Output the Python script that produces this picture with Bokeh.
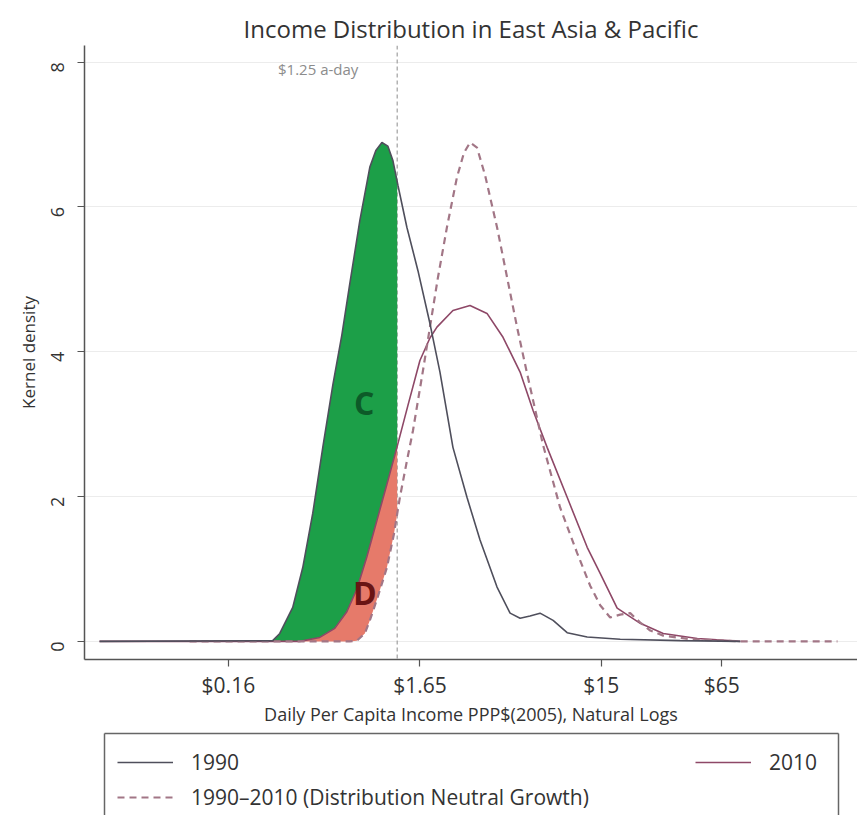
import math
import numpy as np
from bokeh.plotting import figure
from bokeh.models import (Range1d, FixedTicker, Span, Legend, LegendItem, LinearAxis,
                          Label, ColumnDataSource)
from bokeh.layouts import column
from bokeh.embed import file_html
from bokeh.resources import INLINE
from bokeh.core.properties import value

# ---------------- data (x = natural log of daily income, y = kernel density) ----------------
x_1990 = [-3.402, -1.293, -1.207, -1.049, -0.927, -0.805, -0.683, -0.561, -0.451, -0.354,
          -0.232, -0.110, -0.037, 0.037, 0.110, 0.171, 0.232, 0.341, 0.476, 0.622,
          0.744, 0.902, 1.073, 1.232, 1.439, 1.598, 1.720, 1.841, 1.963, 2.122,
          2.293, 2.537, 2.939, 3.671, 4.402]
y_1990 = [0.0, 0.01, 0.11, 0.47, 1.02, 1.77, 2.68, 3.54, 4.23, 4.94,
          5.81, 6.55, 6.78, 6.89, 6.84, 6.64, 6.30, 5.72, 5.12, 4.39,
          3.72, 2.68, 1.99, 1.40, 0.75, 0.39, 0.32, 0.35, 0.39, 0.29,
          0.12, 0.06, 0.03, 0.01, 0.0]

x_2010 = [-3.402, -0.963, -0.720, -0.537, -0.390, -0.268, -0.146, -0.024, 0.098, 0.220,
          0.354, 0.500, 0.622, 0.707, 0.902, 1.110, 1.317, 1.512, 1.720, 1.878,
          2.049, 2.293, 2.537, 2.695, 2.902, 3.183, 3.463, 3.878, 4.402]
y_2010 = [0.0, 0.0, 0.055, 0.18, 0.41, 0.72, 1.17, 1.67, 2.17, 2.68,
          3.26, 3.88, 4.19, 4.34, 4.57, 4.64, 4.53, 4.20, 3.72, 3.19,
          2.68, 1.99, 1.30, 0.94, 0.46, 0.25, 0.11, 0.04, 0.0]

x_neutral = [-2.305, -0.354, -0.268, -0.171, -0.110, -0.012, 0.098, 0.183, 0.256, 0.341,
             0.415, 0.537, 0.622, 0.720, 0.829, 0.951, 1.037, 1.110, 1.195, 1.293,
             1.439, 1.561, 1.683, 1.805, 2.000, 2.207, 2.415, 2.573, 2.695, 2.817,
             2.939, 3.061, 3.183, 3.305, 3.463, 3.793, 4.402, 5.585]
y_neutral = [0.0, 0.0, 0.01, 0.11, 0.29, 0.62, 1.02, 1.48, 1.99, 2.49,
             2.91, 3.74, 4.34, 5.03, 5.72, 6.41, 6.75, 6.89, 6.82, 6.44,
             5.72, 5.03, 4.34, 3.70, 2.71, 1.85, 1.22, 0.77, 0.50, 0.33,
             0.37, 0.39, 0.26, 0.15, 0.08, 0.03, 0.0, 0.0]

poverty_line = 1.25
poverty_text = "$1.25 a-day"
poverty_text_y = 7.9

tick_dollars = [0.16, 1.65, 15, 65]
tick_labels = ["$0.16", "$1.65", "$15", "$65"]
y_ticks = [0, 2, 4, 6, 8]

area_labels = ["C", "D"]
area_label_x = [-0.18, -0.17]
area_label_y = [3.3, 0.68]
area_label_colors = ["#0d5a28", "#6a1414"]

series_names = ["1990", "2010", "1990\u20132010 (Distribution Neutral Growth)"]

# ---------------- styles ----------------
C1990 = "#4f4f5c"
C2010 = "#8e4867"
CNEU = "#a27686"
GREEN = "#1c9f48"
SALMON = "#e67a6a"
FONT = "Open Sans"
TXT = "#333333"

# ---------------- shaded areas C and D (left of poverty line) ----------------
pov = math.log(poverty_line)
grid = np.array(sorted(set([v for v in x_1990 + x_2010 + x_neutral if v < pov] + [pov])))
g1990 = np.interp(grid, x_1990, y_1990)
g2010 = np.interp(grid, x_2010, y_2010)
gneu = np.interp(grid, x_neutral, y_neutral)

p = figure(frame_width=773, frame_height=614,
           min_border_left=84, min_border_right=0, min_border_top=45, min_border_bottom=71,
           x_range=Range1d(-3.585, 5.829), y_range=Range1d(-0.25, 8.23),
           output_backend="svg", toolbar_location=None, frame_align=False,
           title="Income Distribution in East Asia & Pacific")
p.title.align = "center"
p.title.text_font = FONT
p.title.text_font_size = "24px"
p.title.text_font_style = "normal"
p.title.text_color = TXT
p.title.standoff = 2
p.outline_line_color = None
p.background_fill_color = "white"

p.add_layout(Span(location=pov, dimension="height", line_color="#a0a0a0",
                  line_dash="4 3", line_width=1.2, level="underlay"))

p.varea(x=grid, y1=np.minimum(g2010, g1990), y2=g1990, fill_color=GREEN, fill_alpha=1.0)
p.varea(x=grid, y1=np.minimum(gneu, g2010), y2=g2010, fill_color=SALMON, fill_alpha=1.0)

r2010 = p.line(x_2010, y_2010, line_color=C2010, line_width=1.6)
rneu = p.line(x_neutral, y_neutral, line_color=CNEU, line_width=2.2, line_dash="7 5")
r1990 = p.line(x_1990, y_1990, line_color=C1990, line_width=1.6)

lab_src = ColumnDataSource(dict(x=area_label_x, y=area_label_y, t=area_labels, c=area_label_colors))
p.text(x="x", y="y", text="t", text_color="c", source=lab_src, text_font=value(FONT),
       text_font_size="32px", text_font_style="bold", text_align="center", text_baseline="middle")

p.add_layout(Label(x=pov, y=poverty_text_y, x_offset=-79, text=poverty_text, text_align="center",
                   text_baseline="middle", text_font=FONT, text_font_size="15px",
                   text_color="#8c8c8c"))

tick_vals = [math.log(v) for v in tick_dollars]
p.xaxis.ticker = FixedTicker(ticks=tick_vals)
p.xaxis.major_label_overrides = {t: l for t, l in zip(tick_vals, tick_labels)}
p.xaxis.axis_label = "Daily Per Capita Income PPP$(2005), Natural Logs"
p.yaxis.ticker = FixedTicker(ticks=y_ticks)
p.yaxis.axis_label = "Kernel density"
p.yaxis.major_label_orientation = math.pi / 2

for ax in p.axis:
    ax.axis_line_color = "#555555"
    ax.axis_line_width = 1.5
    ax.major_tick_line_color = "#555555"
    ax.major_tick_line_width = 1.2
    ax.major_tick_out = 7
    ax.major_tick_in = 0
    ax.minor_tick_line_color = None
    ax.major_label_text_font = FONT
    ax.major_label_text_color = TXT
    ax.axis_label_text_font = FONT
    ax.axis_label_text_font_style = "normal"
    ax.axis_label_text_color = TXT
p.xaxis.major_label_text_font_size = "21px"
p.xaxis.major_label_standoff = 4
p.xaxis.axis_label_text_font_size = "18px"
p.xaxis.axis_label_standoff = 0
p.yaxis.major_label_text_font_size = "18px"
p.yaxis.major_label_standoff = 20
p.yaxis.axis_label_text_font_size = "17px"
p.yaxis.axis_label_standoff = 2

p.xgrid.visible = False
p.ygrid.ticker = FixedTicker(ticks=y_ticks)
p.ygrid.grid_line_color = "#ececec"
p.ygrid.grid_line_width = 1

# ---------------- legend panel (box open at the bottom, like the cropped original) ----------------
p2 = figure(frame_width=734, frame_height=82, min_border_left=104, min_border_right=19,
            min_border_top=3, min_border_bottom=0, x_axis_type=None, y_axis_type=None,
            x_range=Range1d(-3.585, 5.829), y_range=Range1d(100, 101),
            output_backend="svg", toolbar_location=None, frame_align=False)
p2.outline_line_color = None
for side in ["left", "right", "above"]:
    ax = LinearAxis(ticker=FixedTicker(ticks=[]), axis_line_color="#666666", axis_line_width=1.5,
                    major_tick_line_color=None, minor_tick_line_color=None,
                    major_label_text_font_size="0px")
    p2.add_layout(ax, side)

# legend keys: same series, drawn outside the visible y-range of the legend panel
l1990 = p2.line(x_1990, y_1990, line_color=C1990, line_width=1.6)
l2010 = p2.line(x_2010, y_2010, line_color=C2010, line_width=1.6)
lneu = p2.line(x_neutral, y_neutral, line_color=CNEU, line_width=2.2, line_dash="7 5")

common = dict(label_text_font=FONT, label_text_font_size="21px", label_text_color=TXT,
              glyph_height=32, label_height=32, label_standoff=18, spacing=3,
              padding=8, margin=13, border_line_color=None, background_fill_alpha=0,
              glyph_width=56)
legA = Legend(items=[LegendItem(label=series_names[0], renderers=[l1990]),
                     LegendItem(label=series_names[2], renderers=[lneu])],
              location="top_left", **common)
legB = Legend(items=[LegendItem(label=series_names[1], renderers=[l2010])],
              location="top_right", label_width=56, **common)
p2.add_layout(legA)
p2.add_layout(legB)

layout = column(p, p2, spacing=0)
open("out.html", "w").write(file_html(layout, INLINE))
